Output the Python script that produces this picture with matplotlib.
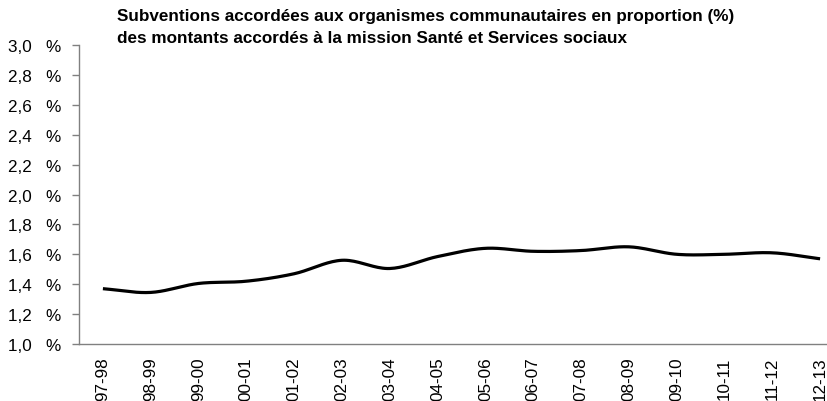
import numpy as np
from matplotlib import pyplot as plt

years = ["97-98", "98-99", "99-00", "00-01", "01-02", "02-03", "03-04", "04-05",
         "05-06", "06-07", "07-08", "08-09", "09-10", "10-11", "11-12", "12-13"]
share = [1.37, 1.345, 1.405, 1.42, 1.47, 1.56, 1.505, 1.585,
         1.64, 1.62, 1.625, 1.65, 1.60, 1.60, 1.61, 1.57]
yticks = [1.0, 1.2, 1.4, 1.6, 1.8, 2.0, 2.2, 2.4, 2.6, 2.8, 3.0]
title_lines = ["Subventions accordées aux organismes communautaires en proportion (%)",
               "des montants accordés à la mission Santé et Services sociaux"]


def catmull_rom(x, y, n=20):
    # smooth curve through the points, like the spreadsheet "smoothed line"
    x = np.asarray(x, float)
    y = np.asarray(y, float)
    px = np.concatenate([[2 * x[0] - x[1]], x, [2 * x[-1] - x[-2]]])
    py = np.concatenate([[2 * y[0] - y[1]], y, [2 * y[-1] - y[-2]]])
    xs, ys = [], []
    t = np.linspace(0, 1, n, endpoint=False)
    for i in range(1, len(px) - 2):
        for arr, out in ((px, xs), (py, ys)):
            p0, p1, p2, p3 = arr[i - 1], arr[i], arr[i + 1], arr[i + 2]
            out.extend(0.5 * (2 * p1 + (-p0 + p2) * t + (2 * p0 - 5 * p1 + 4 * p2 - p3) * t ** 2
                              + (-p0 + 3 * p1 - 3 * p2 + p3) * t ** 3))
    xs.append(x[-1])
    ys.append(y[-1])
    return np.array(xs), np.array(ys)


plt.rcParams["font.family"] = ["Liberation Sans", "DejaVu Sans"]

fig = plt.figure(figsize=(8.28, 4.02), dpi=100)
# the plot area runs past the right edge, as in the source image
ax = fig.add_axes([79 / 828, 1 - 345 / 402, 765 / 828, 299 / 402])

pos = np.arange(len(years))
sx, sy = catmull_rom(pos, share)
ax.plot(sx, sy, color="black", linewidth=2.3, solid_capstyle="butt")

ax.set_xlim(-0.5, len(years) - 0.5)
ax.set_ylim(1.0, 3.0)
ax.set_yticks(yticks)
ax.set_yticklabels([f"{v:.1f}".replace(".", ",") + "   %" for v in yticks], fontsize=12.3)
ax.set_xticks(pos)
ax.set_xticklabels(years, rotation=90, fontsize=12.3)
ax.tick_params(axis="x", length=0, pad=9)
ax.tick_params(axis="y", length=5, width=1, color="#808080", pad=8)

for side in ("top", "right"):
    ax.spines[side].set_visible(False)
for side in ("left", "bottom"):
    ax.spines[side].set_color("#808080")
    ax.spines[side].set_linewidth(1)

for i, line in enumerate(title_lines):
    fig.text(117 / 828, 1 - (21 + 22 * i) / 402, line,
             fontsize=12.3, fontweight="bold", va="baseline", ha="left")

fig.savefig("out.png", dpi=100)
